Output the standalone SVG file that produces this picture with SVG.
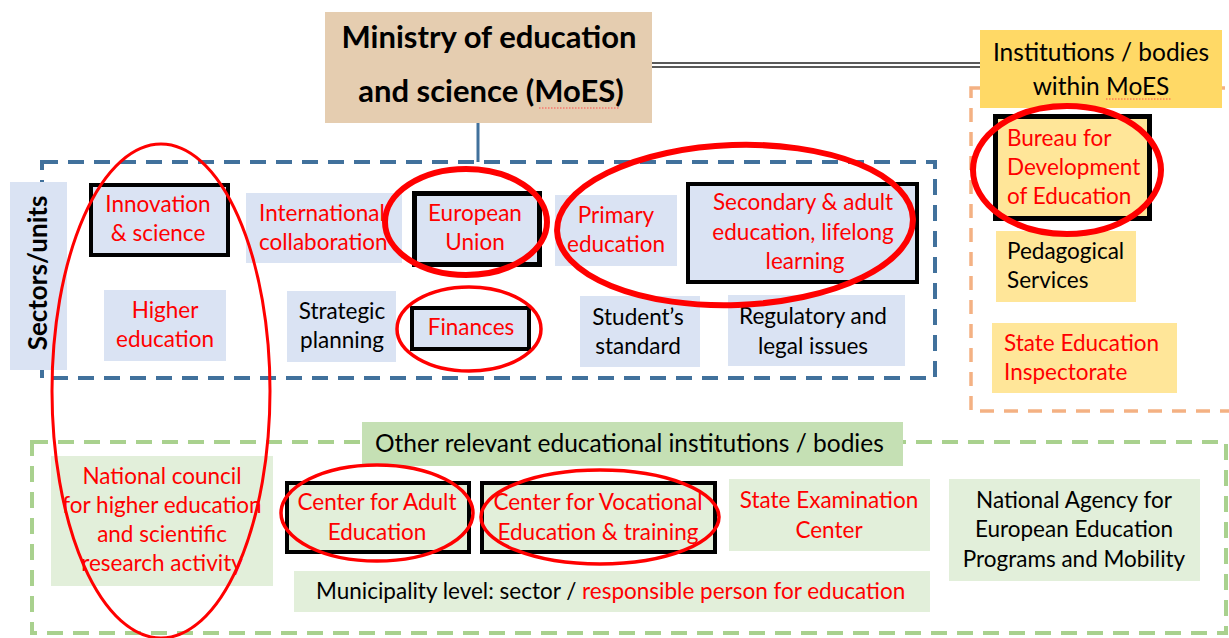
<svg xmlns="http://www.w3.org/2000/svg" width="1229" height="638" viewBox="0 0 1229 638">
<style>
text{font-family:Lato,"Open Sans","Liberation Sans",sans-serif;font-size:22.5px;fill:#000}
.c{text-anchor:middle}
.r{fill:#ff0000}
.b{fill:#dae3f3}
.y{fill:#ffe699}
.g{fill:#e2efda}
.bx{stroke:#000;stroke-width:4}
.bx5{stroke:#000;stroke-width:5}
.ell{fill:none;stroke:#ff0000}
.sq{fill:none;stroke:#ff4d4d;stroke-width:1;stroke-dasharray:1.5 1.5}
.h{font-size:24.5px}
</style>
<rect width="1229" height="638" fill="#fff"/>
<g id="containers">
  <rect x="42" y="162" width="893" height="216" fill="none" stroke="#41719c" stroke-width="4" stroke-dasharray="16 10"/>
  <rect x="971" y="88" width="270" height="323" fill="none" stroke="#f4b183" stroke-width="3.5" stroke-dasharray="14 10"/>
  <rect x="32" y="442" width="1194" height="191" fill="none" stroke="#a9d18e" stroke-width="4" stroke-dasharray="16 10"/>
</g>
<g id="connectors">
  <line x1="478" y1="123" x2="478" y2="162" stroke="#41719c" stroke-width="3"/>
  <line x1="652" y1="63" x2="982" y2="63" stroke="#222" stroke-width="1.5"/>
  <line x1="652" y1="67" x2="982" y2="67" stroke="#222" stroke-width="1.5"/>
</g>
<g id="ministry">
  <rect x="325" y="12" width="327" height="111" fill="#e5cdb0"/>
  <text class="c" x="489" y="48" style="font-size:31px;font-weight:bold">Ministry of education</text>
  <text class="c" x="491" y="102" style="font-size:31px;font-weight:bold">and science (MoES)</text>
  <path class="sq" d="M539 108 H619"/>
</g>
<g id="institutions-header">
  <rect x="980" y="30" width="242" height="78" fill="#ffd966"/>
  <text class="c h" x="1101" y="61">Institutions / bodies</text>
  <text class="c h" x="1101" y="95">within MoES</text>
  <path class="sq" d="M1106 99 H1171"/>
</g>
<g id="bureau">
  <rect class="y bx5" x="995.5" y="116.5" width="154" height="102"/>
  <text class="r" x="1007" y="146">Bureau for</text>
  <text class="r" x="1007" y="175">Development</text>
  <text class="r" x="1007" y="204">of Education</text>
</g>
<g id="pedagogical">
  <rect class="y" x="996" y="231" width="140" height="71"/>
  <text x="1007" y="259">Pedagogical</text>
  <text x="1007" y="288">Services</text>
</g>
<g id="inspectorate">
  <rect class="y" x="992" y="323" width="185" height="70"/>
  <text class="r" x="1004" y="351">State Education</text>
  <text class="r" x="1004" y="380">Inspectorate</text>
</g>
<g id="sectors-label">
  <rect class="b" x="10" y="182" width="57" height="188"/>
  <text class="c" transform="translate(47,273) rotate(-90)" style="font-size:26px;font-weight:bold">Sectors/units</text>
</g>
<g id="innovation">
  <rect class="b bx" x="91" y="185" width="137" height="70"/>
  <text class="c r" x="158" y="212">Innovation</text>
  <text class="c r" x="158" y="241">&amp; science</text>
</g>
<g id="international">
  <rect class="b" x="246" y="193" width="156" height="70"/>
  <text class="r" x="259" y="221">International</text>
  <text class="r" x="259" y="250">collaboration</text>
</g>
<g id="european-union">
  <rect class="b bx5" x="414.5" y="193.5" width="125" height="71"/>
  <text class="c r" x="475" y="221">European</text>
  <text class="c r" x="475" y="250">Union</text>
</g>
<g id="higher-education">
  <rect class="b" x="104" y="290" width="122" height="71"/>
  <text class="c r" x="165" y="318">Higher</text>
  <text class="c r" x="165" y="347">education</text>
</g>
<g id="strategic">
  <rect class="b" x="287" y="291" width="109" height="71"/>
  <text class="c" x="342" y="319">Strategic</text>
  <text class="c" x="342" y="348">planning</text>
</g>
<g id="finances">
  <rect class="b bx" x="412" y="308" width="117" height="41"/>
  <text class="c r" x="471" y="335">Finances</text>
</g>
<g id="primary">
  <rect class="b" x="555" y="195" width="122" height="71"/>
  <text class="c r" x="616" y="223">Primary</text>
  <text class="c r" x="616" y="252">education</text>
</g>
<g id="secondary">
  <rect class="b bx" x="688" y="184" width="229" height="98"/>
  <text class="c r" x="803" y="210">Secondary &amp; adult</text>
  <text class="c r" x="803" y="240">education, lifelong</text>
  <text class="c r" x="805" y="269">learning</text>
</g>
<g id="students-standard">
  <rect class="b" x="580" y="296" width="120" height="71"/>
  <text class="c" x="638" y="325">Student’s</text>
  <text class="c" x="638" y="354">standard</text>
</g>
<g id="regulatory">
  <rect class="b" x="728" y="295" width="177" height="71"/>
  <text class="c" x="813" y="324">Regulatory and</text>
  <text class="c" x="813" y="354">legal issues</text>
</g>
<g id="other-header">
  <rect x="362" y="422" width="541" height="44" fill="#c5e0b4"/>
  <text class="h" x="375" y="452">Other relevant educational institutions / bodies</text>
</g>
<g id="national-council">
  <rect class="g" x="51" y="456" width="222" height="130"/>
  <text class="c r" x="162" y="484">National council</text>
  <text class="c r" x="162" y="513">for higher education</text>
  <text class="c r" x="162" y="542">and scientific</text>
  <text class="c r" x="162" y="571">research activity</text>
</g>
<g id="adult-education">
  <rect class="g bx" x="287" y="483" width="182" height="69"/>
  <text class="c r" x="377" y="510">Center for Adult</text>
  <text class="c r" x="377" y="540">Education</text>
</g>
<g id="vocational">
  <rect class="g bx" x="482" y="483" width="233" height="69"/>
  <text class="c r" x="598" y="510">Center for Vocational</text>
  <text class="c r" x="598" y="540">Education &amp; training</text>
</g>
<g id="state-examination">
  <rect class="g" x="729" y="479" width="201" height="72"/>
  <text class="c r" x="829" y="508">State Examination</text>
  <text class="c r" x="829" y="538">Center</text>
</g>
<g id="national-agency">
  <rect class="g" x="949" y="479" width="251" height="102"/>
  <text class="c" x="1074" y="508">National Agency for</text>
  <text class="c" x="1074" y="537">European Education</text>
  <text class="c" x="1074" y="567">Programs and Mobility</text>
</g>
<g id="municipality">
  <rect class="g" x="294" y="571" width="636" height="41"/>
  <text x="316" y="599">Municipality level: sector / <tspan class="r">responsible person for education</tspan></text>
</g>
<g id="highlights">
  <ellipse class="ell" cx="161" cy="391" rx="109" ry="247" stroke-width="3"/>
  <ellipse class="ell" cx="466" cy="222" rx="81" ry="53" stroke-width="6"/>
  <ellipse class="ell" cx="469" cy="329" rx="72" ry="42" stroke-width="3.5"/>
  <ellipse class="ell" cx="735" cy="225" rx="178" ry="80" stroke-width="6" transform="rotate(-2 735 225)"/>
  <ellipse class="ell" cx="1067" cy="170" rx="94" ry="64" stroke-width="6"/>
  <ellipse class="ell" cx="377" cy="513" rx="96" ry="48" stroke-width="3.5"/>
  <ellipse class="ell" cx="600" cy="517" rx="119" ry="47" stroke-width="3.5"/>
</g>
</svg>
